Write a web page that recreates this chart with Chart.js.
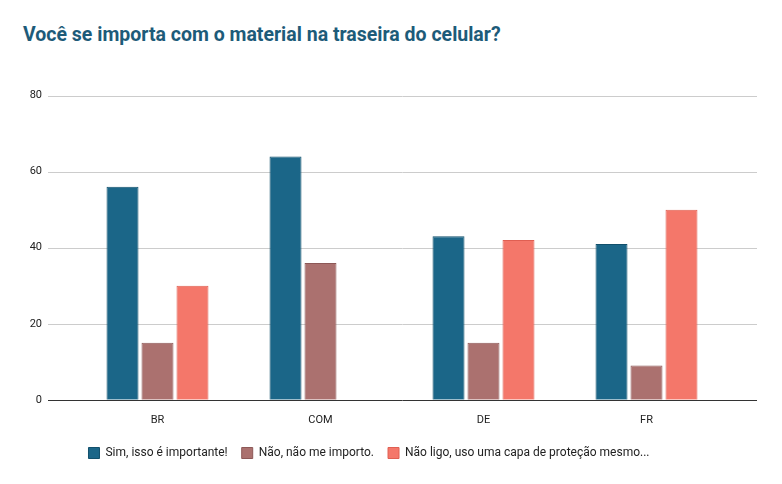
<!DOCTYPE html>
<html><head><meta charset="utf-8">
<script src="https://cdn.jsdelivr.net/npm/chart.js@4"></script>
<style>html,body{margin:0;background:#fff}#w{width:782px;height:484px;position:relative}
h1{position:absolute;left:23px;top:23px;margin:0;font:bold 19.5px Roboto,Arial,sans-serif;color:#1d5b79}
#c{position:absolute;left:0;top:55px}</style></head>
<body><div id="w"><h1>Você se importa com o material na traseira do celular?</h1><canvas id="c" width="782" height="418"></canvas></div>
<script>
const categories=["BR","COM","DE","FR"];
const seriesNames=["Sim, isso é importante!","Não, não me importo.","Não ligo, uso uma capa de proteção mesmo..."];
const sim=[56,64,43,41];
const nao=[15,36,15,9];
const naoLigo=[30,0,42,50];
const fills=["#1b6688","#ab716f","#f4776a"];
const borders=["#12506c","#8d5857","#e05f52"];
const wideGrid={id:'wideGrid',beforeDatasetsDraw(ch){const y=ch.scales.y,c=ch.ctx;c.save();
 y.ticks.forEach(t=>{const p=Math.round(y.getPixelForValue(t.value))+0.5;c.strokeStyle=t.value===0?'#333':'#ccc';c.lineWidth=1;c.beginPath();c.moveTo(48,p);c.lineTo(757,p);c.stroke();});c.restore();}};
new Chart(document.getElementById('c'),{type:'bar',plugins:[wideGrid],
data:{labels:categories,datasets:[sim,nao,naoLigo].map((d,i)=>({label:seriesNames[i],data:d,backgroundColor:fills[i],borderColor:borders[i],borderWidth:1,categoryPercentage:0.644,barPercentage:0.914}))},
options:{responsive:false,animation:false,layout:{padding:{left:10,right:54,top:13,bottom:4}},
plugins:{legend:{position:'bottom',labels:{boxWidth:11,boxHeight:11,padding:14,color:'#222',font:{family:'Roboto',size:12}}},tooltip:{enabled:false}},
scales:{x:{grid:{display:false},border:{display:false},ticks:{color:'#222',padding:6,font:{family:'Roboto',size:11}}},
y:{min:0,max:80,afterFit(s){s.width=66;},ticks:{stepSize:20,padding:34,color:'#222',font:{family:'Roboto',size:11}},grid:{display:false,drawTicks:false},border:{display:false}}}}});
</script></body></html>
